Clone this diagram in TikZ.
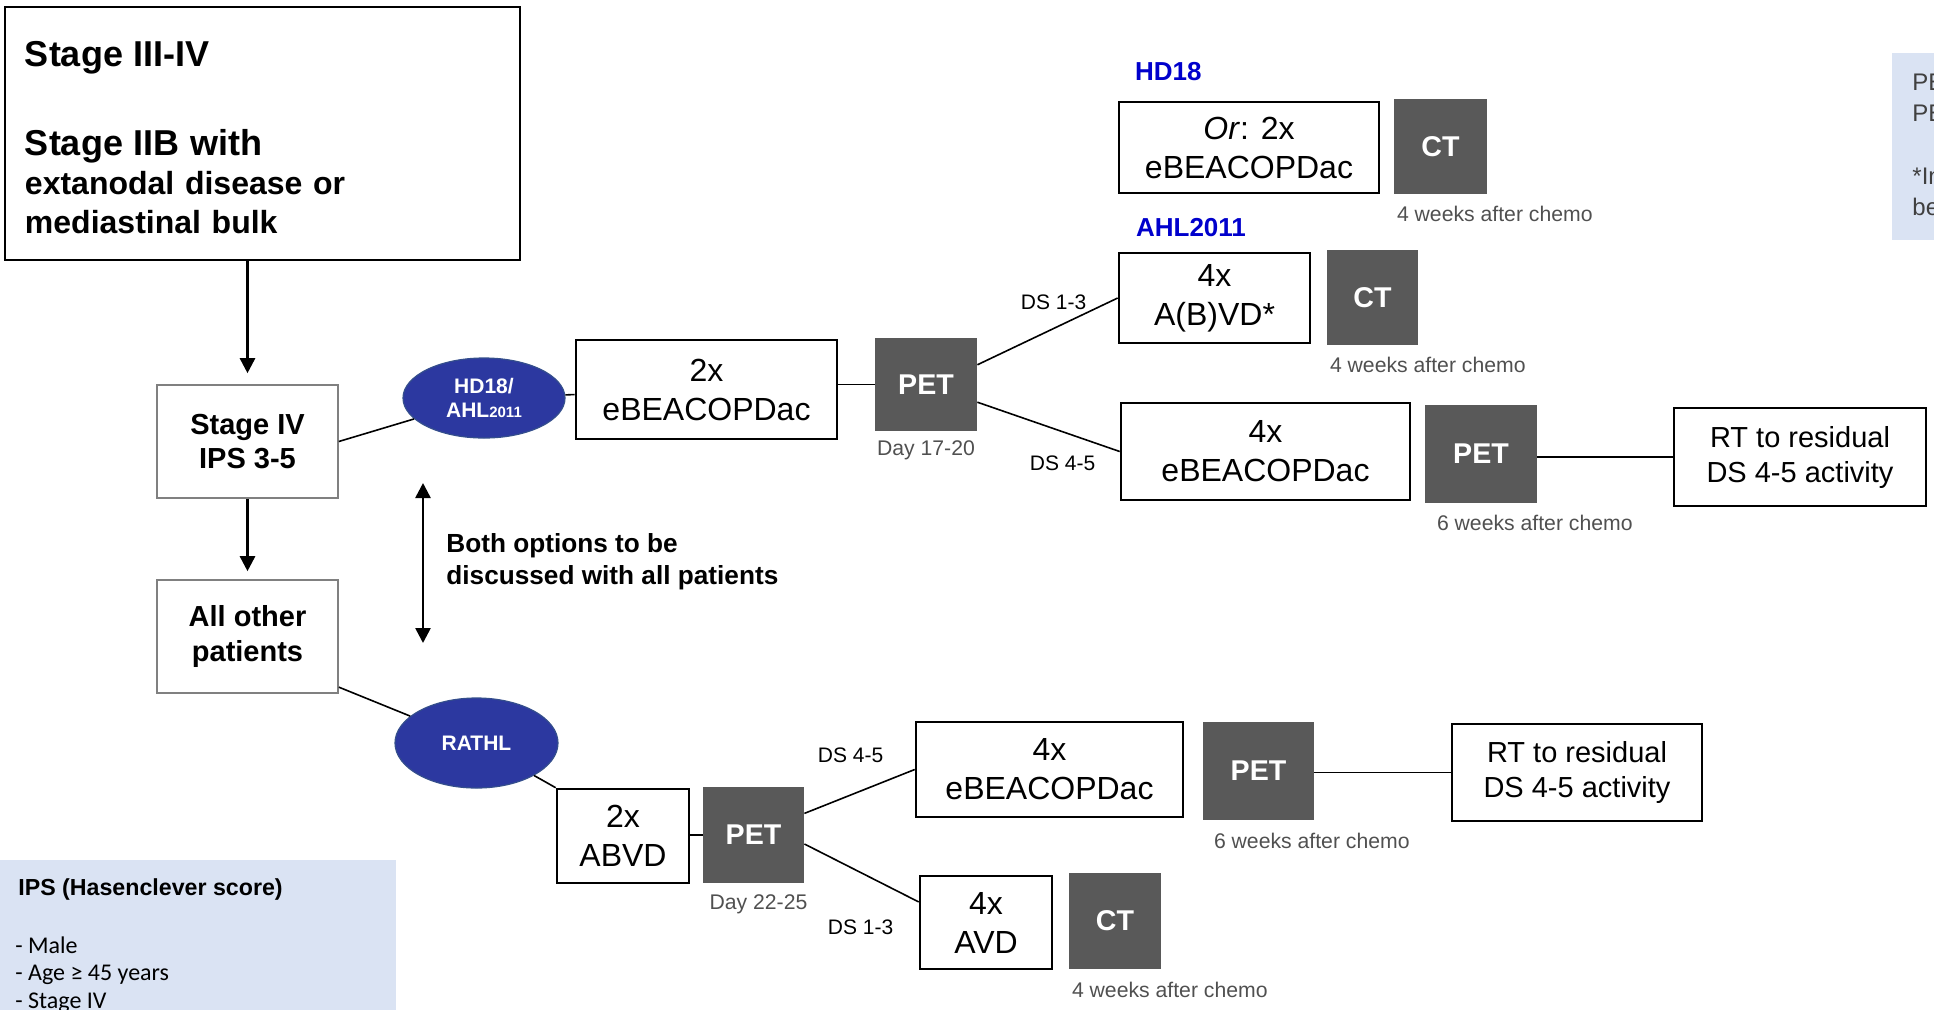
\documentclass[tikz,border=0pt]{standalone}
\usepackage{fontspec}
\setmainfont{Liberation Sans}
\newfontfamily\calibri{Carlito}
\usetikzlibrary{positioning,shapes.geometric,arrows.meta}

\definecolor{ovalblue}{RGB}{44,56,160}
\definecolor{ovaledge}{RGB}{52,78,140}
\definecolor{scangray}{RGB}{89,89,89}
\definecolor{whengray}{RGB}{80,80,80}
\definecolor{notegray}{RGB}{64,64,64}
\definecolor{trialblue}{RGB}{0,0,204}
\definecolor{iceblue}{RGB}{218,227,243}
\definecolor{stagegray}{RGB}{128,128,128}

\newcommand{\fs}[2]{\fontsize{#1}{#2}\selectfont}

\begin{document}
\begin{tikzpicture}[x=0.5pt, y=-0.5pt,
    chemo/.style={draw, line width=1.3pt, align=center, inner sep=0pt, font=\fs{16}{19.5}},
    scan/.style={fill=scangray, text=white, inner sep=0pt, font=\bfseries\fs{14.3}{17}},
    stagebox/.style={draw=stagegray, line width=0.8pt, align=center, minimum width=90.5pt, minimum height=56.5pt, font=\bfseries\fs{14.5}{17.3}},
    trial/.style={ellipse, fill=ovalblue, draw=ovaledge, line width=0.6pt, text=white, align=center, inner sep=0pt, font=\bfseries\fs{10.5}{12}},
    rtbox/.style={draw, line width=1.3pt, align=center, inner sep=0pt, font=\fs{14.5}{17.5}},
    when/.style={text=whengray, inner sep=0pt, font=\fs{10.6}{12}},
    ds/.style={inner sep=0pt, font=\fs{10.5}{12}},
    trialname/.style={text=trialblue, inner sep=0pt, font=\bfseries\fs{13}{15}},
    link/.style={line width=0.8pt},
    flow/.style={line width=1.3pt, -{Triangle[width=7.5pt,length=7.5pt]}},
  ]
  \useasboundingbox (0,0) rectangle (1934,1009);
  \clip (0,0) rectangle (1934,1009);

  \node[draw, line width=1.3pt, minimum width=257.5pt, minimum height=126.5pt, text width=237.5pt,
        align=left, inner sep=0pt, font=\bfseries\fs{16}{19.5}, text height=17pt] (stage_iii_iv) at (262.5,133.5)
       {{\fs{18}{20}Stage III-IV}\\[25pt]{\fs{18}{20}Stage IIB with}\\extanodal disease or\\mediastinal bulk};

  \node[stagebox] (stage_iv) at (247.5,441.5) {Stage IV\\IPS 3-5};
  \node[stagebox] (all_other) at (247.5,636.5) {All other\\patients};

  \draw[flow, shorten >=5.5pt] (stage_iii_iv.south -| stage_iv.north) -- (stage_iv.north);
  \draw[flow, shorten >=4pt] (stage_iv) -- (all_other);

  \node[trial, minimum width=81pt, minimum height=40pt] (hd18_ahl) at (484,398) {HD18/\\AHL{\fs{7.5}{9}2011}};
  \node[trial, minimum width=81.5pt, minimum height=45pt] (rathl) at (476.5,743) {RATHL};

  \coordinate (discuss_top) at (423,483);
  \coordinate (discuss_bottom) at (423,643);
  \draw[line width=1.3pt, {Triangle[width=7.5pt,length=7.5pt]}-{Triangle[width=7.5pt,length=7.5pt]}] (discuss_top) -- (discuss_bottom);
  \node[anchor=west, align=left, inner sep=0pt, font=\bfseries\fs{13.1}{16}] (discuss_note) at (446,562)
       {Both options to be\\discussed with all patients};

  \node[chemo, minimum width=130.5pt, minimum height=49.5pt] (beacop_2x) at (706.5,389.5) {2x\\eBEACOPDac};
  \node[scan, minimum width=51pt, minimum height=46.5pt] (pet_interim) at (926,384.5) {PET};
  \node[when, below=4.5pt of pet_interim] (day_17_20) {Day 17-20};

  \node[chemo, minimum width=130pt, minimum height=45.5pt] (or_beacop) at (1249,147.5) {\textit{Or}: 2x\\eBEACOPDac};
  \node[scan, minimum width=46.5pt, minimum height=47.5pt] (ct_hd18) at (1440.5,146.5) {CT};
  \node[when, below right=5.5pt and 1.5pt of ct_hd18.south west] (weeks_hd18) {4 weeks after chemo};
  \node[trialname, above right=9.75pt and 8.5pt of or_beacop.north west] (hd18_name) {HD18};

  \node[chemo, minimum width=95.5pt, minimum height=45pt] (abvd_4x) at (1214.5,298) {4x\\A(B)VD*};
  \node[scan, minimum width=45.5pt, minimum height=47.5pt] (ct_ahl) at (1372.5,297.5) {CT};
  \node[when, below right=5.5pt and 1.5pt of ct_ahl.south west] (weeks_ahl) {4 weeks after chemo};
  \node[trialname, above right=7.5pt and 9pt of abvd_4x.north west] (ahl_name) {AHL2011};

  \node[chemo, minimum width=144.5pt, minimum height=48.5pt] (beacop_4x) at (1265.5,451.5) {4x\\eBEACOPDac};
  \node[scan, minimum width=56pt, minimum height=49pt] (pet_end_hd) at (1481,453.5) {PET};
  \node[when, below right=6pt and 6pt of pet_end_hd.south west] (weeks_end_hd) {6 weeks after chemo};
  \node[rtbox, minimum width=126pt, minimum height=49pt] (rt_hd) at (1800,457) {RT to residual\\DS 4-5 activity};

  \node[chemo, minimum width=66pt, minimum height=47pt] (abvd_2x) at (623,836) {2x\\ABVD};
  \node[scan, minimum width=50.5pt, minimum height=48pt] (pet_rathl) at (753.5,835) {PET};
  \node[when, below=5.5pt of pet_rathl, xshift=2.5pt] (day_22_25) {Day 22-25};

  \node[chemo, minimum width=133.5pt, minimum height=47.5pt] (beacop_4x_r) at (1049.5,769.5) {4x\\eBEACOPDac};
  \node[scan, minimum width=55.5pt, minimum height=49pt] (pet_end_r) at (1258.5,771) {PET};
  \node[when, below right=6pt and 5.5pt of pet_end_r.south west] (weeks_end_r) {6 weeks after chemo};
  \node[rtbox, minimum width=125pt, minimum height=48.5pt] (rt_r) at (1577,772.5) {RT to residual\\DS 4-5 activity};

  \node[chemo, minimum width=66pt, minimum height=46.5pt] (avd_4x) at (986,922.5) {4x\\AVD};
  \node[scan, minimum width=46pt, minimum height=48pt] (ct_rathl) at (1115,921) {CT};
  \node[when, below right=6pt and 1.5pt of ct_rathl.south west] (weeks_rathl) {4 weeks after chemo};

  \node[fill=iceblue, minimum width=198pt, minimum height=90pt, anchor=north west, inner sep=0pt] (ips_box) at (0,860) {};
  \node[anchor=west, inner sep=0pt, font=\bfseries\fs{11.6}{14}] (ips_title) at (18,889) {IPS (Hasenclever score)};
  \node[anchor=north west, align=left, inner sep=0pt, font=\calibri\fs{12}{13.75}] (ips_list) at (15,936)
       {- Male\\- Age ≥ 45 years\\- Stage IV};

  \node[fill=iceblue, minimum width=40pt, minimum height=93.5pt, anchor=north west, inner sep=0pt] (note_box) at (1892,53) {};
  \node[anchor=north west, align=left, text=notegray, inner sep=0pt, font=\fs{12}{15.5}] (note_text) at (1912,73.5)
       {PE\\PE\\[16pt]*In\\be};

  \draw[link] (stage_iv.east) -- (hd18_ahl);
  \draw[link] (all_other.-29) -- (rathl);
  \draw[link] (hd18_ahl) -- (beacop_2x);
  \draw[link] (rathl) -- (abvd_2x.north west);
  \draw[link] (beacop_2x.east |- pet_interim.west) -- (pet_interim.west);
  \draw[link] (abvd_2x.east |- pet_rathl.west) -- (pet_rathl.west);
  \draw[link] (rt_hd.west -| pet_end_hd.east) -- (rt_hd.west);
  \draw[link] (rt_r.west -| pet_end_r.east) -- (rt_r.west);

  \path (pet_interim.21) edge[link] node[ds, above=10.5pt, xshift=3pt] {DS 1-3} (abvd_4x.west);
  \path (pet_interim.-19) edge[link] node[ds, below=14pt, xshift=7pt] {DS 4-5} (beacop_4x.west);
  \path (pet_rathl.23) edge[link] node[ds, above=14pt, xshift=-4.5pt] {DS 4-5} (beacop_4x_r.west);
  \path (pet_rathl.-10) edge[link] node[ds, below=23pt, xshift=-0.5pt] {DS 1-3} (avd_4x.163);
\end{tikzpicture}
\end{document}
